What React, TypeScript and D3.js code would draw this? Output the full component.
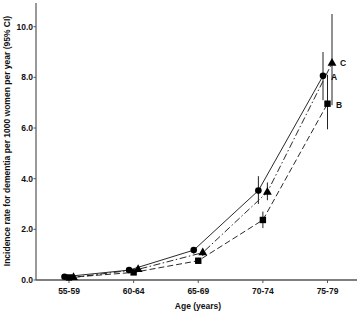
import React from "react";
import * as d3 from "d3";

const categories = ["55-59", "60-64", "65-69", "70-74", "75-79"];
const seriesA = [0.13, 0.39, 1.18, 3.53, 8.06]; // circle, solid
const seriesB = [0.1, 0.3, 0.76, 2.37, 6.96]; // square, dashed
const seriesC = [0.1, 0.42, 1.08, 3.47, 8.56]; // triangle, dash-dot
const lowA = [0.08, 0.3, 1.05, 3.0, 7.1];
const highA = [0.18, 0.48, 1.3, 4.1, 9.0];
const lowB = [0.06, 0.22, 0.66, 2.05, 5.95];
const highB = [0.14, 0.38, 0.88, 2.7, 8.1];
const lowC = [0.06, 0.33, 0.95, 3.15, 6.9];
const highC = [0.14, 0.52, 1.2, 3.85, 10.5];
const yTicks = [0, 2, 4, 6, 8, 10];

export default function App() {
  const W = 362, H = 313;
  const x = d3.scalePoint<string>().domain(categories).range([69, 327.5]);
  const y = d3.scaleLinear().domain([0, 10]).range([280, 26.7]);
  const axisColor = "#555";
  const font = "'Liberation Sans', Arial, sans-serif";
  const series = [
    { name: "A", vals: seriesA, lo: lowA, hi: highA, off: -4.5, dash: "none", shape: "circle" },
    { name: "B", vals: seriesB, lo: lowB, hi: highB, off: 0, dash: "6,3", shape: "square" },
    { name: "C", vals: seriesC, lo: lowC, hi: highC, off: 4.5, dash: "7,2.5,1.5,2.5", shape: "triangle" },
  ];
  const line = (s: any) =>
    d3.line<number>()
      .x((_, i) => (x(categories[i]) as number) + s.off)
      .y((v) => y(v))(s.vals) as string;
  const tri = d3.symbol().type(d3.symbolTriangle).size(34)() as string;

  return (
    <svg width={W} height={H} style={{ position: "absolute", left: 0, top: 0, background: "#fff" }}
      fontFamily={font}>
      {/* axes */}
      <line x1={36} x2={36} y1={3} y2={280} stroke={axisColor} strokeWidth={1.2} />
      <line x1={36} x2={357} y1={280} y2={280} stroke={axisColor} strokeWidth={1.5} />
      {yTicks.map((t) => (
        <g key={t}>
          <line x1={33.5} x2={36} y1={y(t)} y2={y(t)} stroke={axisColor} strokeWidth={1} />
          <text x={33} y={y(t) + 3} textAnchor="end" fontSize={8.5} fontWeight="bold" fill="#111">
            {t.toFixed(1)}
          </text>
        </g>
      ))}
      {categories.map((c) => (
        <g key={c}>
          <line x1={x(c)} x2={x(c)} y1={280} y2={283} stroke={axisColor} strokeWidth={1} />
          <text x={x(c)} y={294} textAnchor="middle" fontSize={8.5} fontWeight="bold" fill="#111">
            {c}
          </text>
        </g>
      ))}
      <text x={198} y={309} textAnchor="middle" fontSize={8.5} fontWeight="bold" fill="#111">
        Age (years)
      </text>
      <text transform={`translate(10,141) rotate(-90)`} textAnchor="middle" fontSize={8.5}
        fontWeight="bold" fill="#111">
        Incidence rate for dementia per 1000 women per year (95% CI)
      </text>

      {/* lines */}
      {series.map((s) => (
        <path key={s.name} d={line(s)} fill="none" stroke="#111" strokeWidth={0.9}
          strokeDasharray={s.dash === "none" ? undefined : s.dash} />
      ))}
      {/* error bars */}
      {series.map((s) =>
        s.vals.map((_, i) => {
          const cx = (x(categories[i]) as number) + s.off;
          return (
            <line key={s.name + i} x1={cx} x2={cx} y1={y(s.lo[i])} y2={y(s.hi[i])}
              stroke="#222" strokeWidth={1} />
          );
        })
      )}
      {/* markers */}
      {series.map((s) =>
        s.vals.map((v, i) => {
          const cx = (x(categories[i]) as number) + s.off;
          const cy = y(v);
          if (s.shape === "circle") return <circle key={s.name + i} cx={cx} cy={cy} r={3.3} fill="#000" />;
          if (s.shape === "square")
            return <rect key={s.name + i} x={cx - 3.2} y={cy - 3.2} width={6.4} height={6.4} fill="#000" />;
          return <path key={s.name + i} d={tri} transform={`translate(${cx},${cy})`} fill="#000" />;
        })
      )}
      {/* series labels */}
      <text x={331} y={y(seriesA[4]) + 4} fontSize={8.5} fontWeight="bold" fill="#111">A</text>
      <text x={336} y={y(seriesB[4]) + 4} fontSize={8.5} fontWeight="bold" fill="#111">B</text>
      <text x={340} y={y(seriesC[4]) + 3} fontSize={8.5} fontWeight="bold" fill="#111">C</text>
    </svg>
  );
}
